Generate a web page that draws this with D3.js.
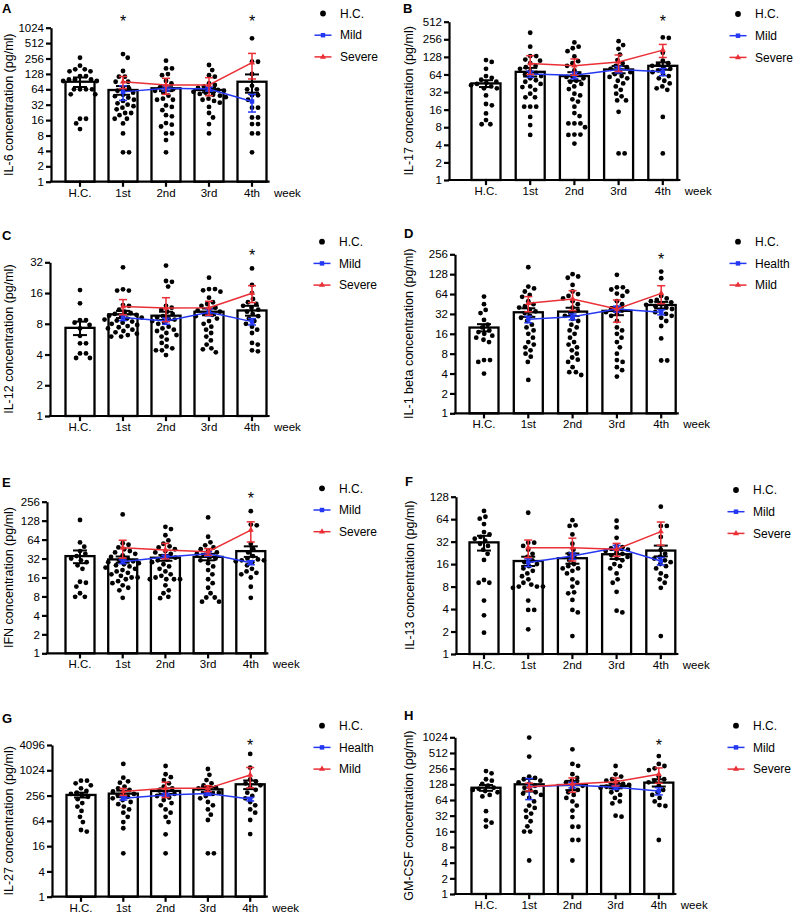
<!DOCTYPE html>
<html>
<head>
<meta charset="utf-8">
<script src="https://cdn.jsdelivr.net/npm/d3@7"></script>
<style>
  body { margin: 0; background: #fff; }
  svg { display: block; font-family: "Liberation Sans", Arial, Helvetica, sans-serif; }
</style>
</head>
<body>
<svg id="chart" width="796" height="916"></svg>
<script>
// categories
const groups = ['H.C.', '1st', '2nd', '3rd', '4th'];
const weeks = ['1st', '2nd', '3rd', '4th'];

// tick values
const ticks1024 = [1, 2, 4, 8, 16, 32, 64, 128, 256, 512, 1024];
const ticks512 = [1, 2, 4, 8, 16, 32, 64, 128, 256, 512];
const ticks256 = [1, 2, 4, 8, 16, 32, 64, 128, 256];
const ticks128 = [1, 2, 4, 8, 16, 32, 64, 128];
const ticks32 = [1, 2, 4, 8, 16, 32];
const ticks4096 = [1, 4, 16, 64, 256, 1024, 4096];

// A: IL-6
const il6Dots = [
  [265, 185, 157, 157, 144, 144, 116, 116, 100, 100, 100, 93, 93, 64, 64, 64, 64, 51, 51, 17, 17, 13.8, 10.7],
  [313, 265, 146, 113, 113, 90, 90, 67, 67, 60, 55, 50, 47, 44, 40, 38, 34, 32, 30, 28, 26, 22, 22, 20, 17, 17, 13.8, 8.8, 3.75, 3.75],
  [232, 164, 164, 127, 121, 93, 83, 70, 70, 64, 60, 55, 48, 42, 40, 40, 31, 29, 25, 20, 19, 14, 13, 12, 8.8, 8.8, 6.5, 3.75],
  [191, 152, 121, 113, 83, 78, 72, 68, 64, 62, 60, 57, 55, 52, 50, 48, 45, 42, 40, 38, 35, 29, 22, 18, 13.4, 8.8],
  [634, 221, 221, 128, 75, 64, 64, 49, 49, 40, 28, 28, 18, 18, 13.4, 13.4, 8.8, 8.8, 3.75]
];
const il6Mean = [90, 62, 67, 62, 90];
const il6Sem = [19, 12, 8, 6, 35];
const il6Mild = [57, 67, 65, 37];
const il6MildSem = [18, 8, 6, 14];
const il6Severe = [90, 78, 78, 212];
const il6SevereSem = [24, 27, 30, 110];

// B: IL-17
const il17Dots = [
  [113, 105, 80, 60, 56, 52, 48, 46, 44, 42, 40, 37, 37, 28, 20, 19, 13.8, 10.6, 9, 9],
  [331, 191, 132, 132, 115, 110, 100, 90, 85, 80, 72, 68, 64, 60, 55, 51, 48, 44, 40, 39, 35, 30, 26, 26, 18, 18, 18, 12, 8.7, 5.9],
  [226, 191, 180, 160, 130, 108, 100, 90, 75, 65, 60, 58, 55, 50, 48, 44, 40, 36, 30, 28, 24, 22, 18, 14, 12.4, 9.3, 9.3, 9.3, 8, 6, 6, 5.9, 4.2],
  [238, 204, 176, 140, 113, 100, 90, 85, 80, 75, 70, 65, 60, 58, 55, 50, 45, 40, 35, 30, 27, 23, 23, 14.7, 2.85, 2.85],
  [276, 270, 150, 110, 100, 95, 90, 85, 80, 75, 70, 65, 60, 55, 50, 45, 40, 37, 35, 12, 2.85]
];
const il17Mean = [45, 71, 60, 78, 90];
const il17Sem = [6, 12, 10, 11, 13];
const il17Mild = [65, 62, 78, 71];
const il17MildSem = [8, 8, 10, 10];
const il17Severe = [99, 90, 105, 167];
const il17SevereSem = [35, 28, 33, 42];

// C: IL-12
const il12Dots = [
  [17.1, 12.7, 8.7, 8.7, 8.2, 7.8, 7.2, 6.1, 5.15, 5.15, 4.1, 4.1, 3.7, 3.7],
  [28.6, 17.4, 16.9, 16.9, 12.2, 12, 11, 10.5, 10.2, 10, 9.8, 9.6, 9.4, 9.2, 9, 8.8, 8.6, 8.4, 8.2, 8, 7.8, 7.6, 7.4, 7.2, 7, 6.8, 6.6, 6.4, 6.2, 6, 6],
  [29.7, 21, 20.6, 18.5, 12, 11.5, 11, 10.5, 10, 9.5, 9.2, 9, 8.8, 8.5, 8.2, 8, 7.5, 7.2, 7, 6.8, 6.5, 6.2, 6, 5.6, 5.2, 4.8, 4.6, 4.4, 4.4, 3.95],
  [22.6, 17.5, 17.5, 17, 16.5, 14.4, 13, 12.5, 12, 11.5, 11, 10.8, 10.5, 10, 9.8, 9.5, 9, 8.5, 8, 7.5, 7, 6.5, 6, 5.5, 5, 4.6, 4.5, 4.2],
  [27.9, 19.2, 16, 14, 13, 12.5, 12, 11.5, 11, 10.5, 10, 9.5, 9, 8.5, 8, 7.5, 7, 6.5, 5.2, 5, 4.4, 4.3]
];
const il12Mean = [7.3, 9.9, 9.6, 10.5, 10.8];
const il12Sem = [1.1, 0.8, 0.9, 0.8, 1.2];
const il12Mild = [9.2, 8.5, 10.4, 8.4];
const il12MildSem = [0.6, 0.6, 0.8, 0.6];
const il12Severe = [11.8, 11.4, 11.5, 15.9];
const il12SevereSem = [2, 3, 1.8, 3];

// D: IL-1 beta
const il1bDots = [
  [58.6, 45, 36.8, 33, 26, 22, 20, 18, 17, 16, 15, 14, 13, 12, 6.4, 6.4, 6, 4],
  [163, 83, 78, 70, 62, 58, 50, 45, 42, 40, 37, 35, 33, 30, 28, 25, 22, 20, 18, 16, 14, 12, 11, 10, 9, 8, 7.2, 6, 3.2],
  [128, 118, 113, 88, 70, 64, 60, 55, 50, 45, 40, 36, 33, 30, 27, 25, 22, 20, 18, 16, 14, 12, 11, 10, 9, 8, 7, 6.5, 6, 5, 4.2, 4.2, 3.8],
  [125, 81, 81, 75, 70, 65, 60, 50, 45, 40, 38, 36, 34, 32, 30, 25, 20, 18, 16, 14, 12, 10, 8, 6.4, 6, 5, 4.5, 3.6],
  [140, 111, 60, 55, 52, 50, 48, 45, 44, 42, 40, 38, 36, 34, 32, 30, 28, 25, 21, 13.6, 6.3, 6.3]
];
const il1bMean = [19.9, 33.9, 34.7, 35.6, 43.7];
const il1bSem = [2.5, 5, 5, 5, 5];
const il1bMild = [26.5, 29, 38, 34];
const il1bMildSem = [3, 3, 4, 3];
const il1bSevere = [46.5, 54, 38, 65.6];
const il1bSevereSem = [12, 18, 14, 20];

// E: IFN
const ifnDots = [
  [131, 57.7, 49.4, 42, 38, 35, 32, 30, 28, 25, 22, 13.7, 13.2, 11.5, 9, 7.9, 7.9],
  [161, 56, 53, 48, 45, 42, 40, 38, 36, 34, 32, 30, 29, 28, 27, 26, 25, 24, 23, 22, 21, 20, 19, 18, 17, 16, 16, 15, 14, 13, 12, 11, 10, 7.6],
  [102, 94, 75, 62, 55, 50, 48, 45, 42, 40, 38, 35, 33, 31, 30, 28, 26, 24, 22, 20, 18, 17, 16, 15, 15, 15, 15, 12, 10, 9, 7.9, 7.5],
  [144, 71, 58, 52, 48, 45, 42, 40, 38, 36, 34, 32, 30, 27, 24, 21, 18, 15, 13, 11, 9, 7.7, 7.7, 6.6, 6.6],
  [181, 111, 108, 55, 45, 40, 35, 32, 31, 30, 30, 29, 28, 25, 22, 20, 19, 18, 16, 11.4, 7.6]
];
const ifnMean = [35, 31, 33, 34, 42];
const ifnSem = [8, 3.5, 3.5, 4, 8];
const ifnMild = [28.5, 34, 38, 27.5];
const ifnMildSem = [2, 2, 3, 2];
const ifnSevere = [47.5, 43.6, 41, 90.6];
const ifnSevereSem = [15, 12, 5, 32];

// F: IL-13
const il13Dots = [
  [82.6, 69, 65, 55, 43, 40, 37, 35, 33, 30, 28, 25, 22, 18.2, 9.8, 9, 9, 5.2, 3.3, 1.93],
  [78, 31, 31, 28, 25, 22, 20, 18, 17, 16, 15, 14, 13, 12, 11, 10, 9, 8.5, 8, 8, 8, 7.7, 5.2, 3.9, 3.9, 2.14],
  [62, 53, 52, 40, 30, 25, 22, 20, 18, 16, 15, 14, 14, 13, 12, 10, 9, 8, 6.7, 6.5, 5.3, 3.9, 3.6, 1.74],
  [61, 49.6, 36, 28, 27, 26, 25, 24, 23, 22, 21, 20, 19, 18, 16, 15, 14, 12, 10, 9, 6.8, 3.8, 3.6],
  [94, 52, 52, 37, 25, 22, 20, 19, 18, 17, 16, 15, 14, 12, 11, 10, 9, 7.7, 1.74]
];
const il13Mean = [31.3, 17.6, 19.2, 21.7, 24.3];
const il13Sem = [7, 2.5, 3, 3, 4];
const il13Mild = [16.8, 20.6, 26.5, 17.6];
const il13MildSem = [2, 2, 2, 2];
const il13Severe = [26.6, 26.6, 25.3, 43.6];
const il13SevereSem = [7, 9, 5, 15];

// G: IL-27
const il27Dots = [
  [580, 580, 500, 450, 380, 330, 300, 280, 260, 240, 210, 170, 140, 110, 80, 60, 38.8, 35.5],
  [1448, 683, 560, 520, 420, 380, 350, 320, 300, 280, 260, 240, 220, 200, 180, 160, 140, 120, 100, 80, 60, 42.6, 10.8],
  [1296, 823, 700, 600, 500, 420, 380, 340, 300, 280, 250, 230, 200, 170, 150, 120, 100, 80, 60, 30.6, 10.8],
  [1100, 800, 600, 500, 450, 400, 380, 340, 300, 280, 250, 220, 180, 150, 120, 90, 67, 10.8, 10.8],
  [2510, 1177, 620, 560, 500, 450, 400, 350, 300, 250, 220, 180, 150, 120, 100, 67, 31]
];
const il27Mean = [265, 285, 330, 360, 475];
const il27Sem = [35, 50, 50, 50, 110];
const il27Mild = [220, 265, 288, 211];
const il27MildSem = [20, 25, 30, 20];
const il27Severe = [318, 380, 380, 792];
const il27SevereSem = [60, 150, 60, 400];

// H: GM-CSF
const gmcsfDots = [
  [230, 208, 160, 150, 130, 120, 110, 105, 100, 95, 90, 80, 75, 39, 26, 23.5, 19.7],
  [1010, 436, 180, 170, 160, 150, 140, 130, 120, 110, 100, 90, 85, 80, 70, 60, 50, 45, 40, 35, 30, 25, 20, 15.8, 15.8, 4.4],
  [601, 315, 290, 200, 170, 150, 140, 130, 120, 110, 100, 90, 80, 70, 60, 50, 40, 30, 19.6, 19.6, 10.9, 10.9, 4.4],
  [288, 199, 180, 160, 150, 140, 130, 125, 120, 115, 110, 100, 90, 80, 70, 60, 55, 32, 30.6],
  [447, 315, 288, 260, 240, 180, 160, 150, 140, 120, 100, 90, 80, 70, 60, 51, 49, 10.9]
];
const gmcsfMean = [110, 128, 124, 119, 138];
const gmcsfSem = [14, 35, 25, 12, 22];
const gmcsfMild = [115, 124, 112, 95];
const gmcsfMildSem = [50, 15, 10, 15];
const gmcsfSevere = [115, 130, 144, 199];
const gmcsfSevereSem = [20, 40, 25, 65];

const legendMildSevere = ['Mild', 'Severe'];
const legendHealthMild = ['Health', 'Mild'];

const BLUE = '#2437f2';
const RED = '#ea2f36';
const BAR_W = 29;

// panel layout
const panels = [
  { letter: 'A', title: 'IL-6 concentration (pg/ml)', dots: il6Dots, mean: il6Mean, sem: il6Sem,
    mild: il6Mild, mildSem: il6MildSem, severe: il6Severe, severeSem: il6SevereSem,
    legend: legendMildSevere, stars: ['1st', '4th'], ticks: ticks1024,
    axisX: 51, c0: 80, step: 43, yTop: 27.7, yBot: 181.7, legX: 323, legY: 13.5,
    letX: 2, letY: 13.3, titleX: 8.5, starY: 18.3 },
  { letter: 'B', title: 'IL-17 concentration (pg/ml)', dots: il17Dots, mean: il17Mean, sem: il17Sem,
    mild: il17Mild, mildSem: il17MildSem, severe: il17Severe, severeSem: il17SevereSem,
    legend: legendMildSevere, stars: ['4th'], ticks: ticks512,
    axisX: 449, c0: 486, step: 44.2, yTop: 21.7, yBot: 180, legX: 738, legY: 14,
    letX: 403, letY: 13.3, titleX: 408.5, starY: 18.3 },
  { letter: 'C', title: 'IL-12 concentration (pg/ml)', dots: il12Dots, mean: il12Mean, sem: il12Sem,
    mild: il12Mild, mildSem: il12MildSem, severe: il12Severe, severeSem: il12SevereSem,
    legend: legendMildSevere, stars: ['4th'], ticks: ticks32,
    axisX: 50, c0: 80, step: 43, yTop: 262.3, yBot: 416, legX: 322, legY: 241.7,
    letX: 2, letY: 240, titleX: 8.5, starY: 252.3 },
  { letter: 'D', title: 'IL-1 beta concentration (pg/ml)', dots: il1bDots, mean: il1bMean, sem: il1bSem,
    mild: il1bMild, mildSem: il1bMildSem, severe: il1bSevere, severeSem: il1bSevereSem,
    legend: legendHealthMild, stars: ['4th'], ticks: ticks256,
    axisX: 455, c0: 484, step: 44.3, yTop: 254.3, yBot: 413.3, legX: 738, legY: 241.7,
    letX: 404, letY: 238.3, titleX: 408.5, starY: 255.7 },
  { letter: 'E', title: 'IFN concentration (pg/ml)', dots: ifnDots, mean: ifnMean, sem: ifnSem,
    mild: ifnMild, mildSem: ifnMildSem, severe: ifnSevere, severeSem: ifnSevereSem,
    legend: legendMildSevere, stars: ['4th'], ticks: ticks256,
    axisX: 47, c0: 80, step: 42.7, yTop: 501.7, yBot: 653.3, legX: 322, legY: 488.3,
    letX: 2, letY: 486.7, titleX: 8.5, starY: 495 },
  { letter: 'F', title: 'IL-13 concentration (pg/ml)', dots: il13Dots, mean: il13Mean, sem: il13Sem,
    mild: il13Mild, mildSem: il13MildSem, severe: il13Severe, severeSem: il13SevereSem,
    legend: legendMildSevere, stars: [], ticks: ticks128,
    axisX: 456, c0: 484, step: 44.2, yTop: 496.7, yBot: 654, legX: 736, legY: 490,
    letX: 405, letY: 485.7, titleX: 410, starY: 0 },
  { letter: 'G', title: 'IL-27 concentration (pg/ml)', dots: il27Dots, mean: il27Mean, sem: il27Sem,
    mild: il27Mild, mildSem: il27MildSem, severe: il27Severe, severeSem: il27SevereSem,
    legend: legendHealthMild, stars: ['4th'], ticks: ticks4096,
    axisX: 52, c0: 81, step: 42.3, yTop: 745, yBot: 896.7, legX: 322, legY: 725.7,
    letX: 2, letY: 722.7, titleX: 8.5, starY: 741.7 },
  { letter: 'H', title: 'GM-CSF concentration (pg/ml)', dots: gmcsfDots, mean: gmcsfMean, sem: gmcsfSem,
    mild: gmcsfMild, mildSem: gmcsfMildSem, severe: gmcsfSevere, severeSem: gmcsfSevereSem,
    legend: legendMildSevere, stars: ['4th'], ticks: ticks1024,
    axisX: 455, c0: 486, step: 43.2, yTop: 737.3, yBot: 894, legX: 736, legY: 725.7,
    letX: 404, letY: 720, titleX: 408.5, starY: 741.7 }
];

// simple beeswarm: each point goes to the free spot closest to the column centre
function swarm(values, y, cx, d) {
  const pts = values.map(v => ({ v, y: y(v) })).sort((a, b) => a.y - b.y);
  const placed = [];
  pts.forEach(pt => {
    const cands = [0];
    placed.forEach(q => {
      const dy = Math.abs(q.y - pt.y);
      if (dy < d) {
        const dx = Math.sqrt(d * d - dy * dy);
        cands.push(q.dx + dx + 0.01, q.dx - dx - 0.01);
      }
    });
    cands.sort((a, b) => Math.abs(a) - Math.abs(b));
    pt.dx = cands.find(c => placed.every(q => (q.dx - c) ** 2 + (q.y - pt.y) ** 2 >= d * d - 0.05));
    placed.push(pt);
  });
  return pts.map(p => ({ x: cx + p.dx, y: p.y }));
}

function errorBar(g, x, y, mean, sem, halfCap, color, width) {
  const lo = Math.max(mean - sem, 1.01);
  const hi = mean + sem;
  const e = g.append('g').attr('stroke', color).attr('stroke-width', width).attr('fill', 'none');
  e.append('line').attr('x1', x).attr('x2', x).attr('y1', y(hi)).attr('y2', y(lo));
  e.append('line').attr('x1', x - halfCap).attr('x2', x + halfCap).attr('y1', y(hi)).attr('y2', y(hi));
  e.append('line').attr('x1', x - halfCap).attr('x2', x + halfCap).attr('y1', y(lo)).attr('y2', y(lo));
}

function drawPanel(svg, p) {
  const g = svg.append('g').attr('class', 'panel');
  const y = d3.scaleLog().base(2)
    .domain([1, p.ticks[p.ticks.length - 1]])
    .range([p.yBot, p.yTop]);
  const pad = 1 - BAR_W / p.step;
  const x = d3.scaleBand().domain(groups)
    .range([p.c0 - p.step / 2, p.c0 + (groups.length - 0.5) * p.step])
    .paddingInner(pad).paddingOuter(pad / 2);
  const cx = d => x(d) + x.bandwidth() / 2;
  const xEnd = cx('4th') + BAR_W / 2 + 2;

  // bars
  g.append('g').selectAll('rect').data(groups).join('rect')
    .attr('x', d => x(d))
    .attr('width', x.bandwidth())
    .attr('y', (d, i) => y(p.mean[i]))
    .attr('height', (d, i) => p.yBot - y(p.mean[i]))
    .attr('fill', '#fff')
    .attr('stroke', '#000')
    .attr('stroke-width', 2.3);

  // scatter
  const dotG = g.append('g').attr('fill', '#000');
  groups.forEach((grp, i) => {
    swarm(p.dots[i], y, cx(grp), 6).forEach(pt => {
      dotG.append('circle').attr('cx', pt.x).attr('cy', pt.y).attr('r', 2.4);
    });
  });

  // bar error bars
  groups.forEach((grp, i) => errorBar(g, cx(grp), y, p.mean[i], p.sem[i], 7, '#000', 2));

  // mild / severe lines
  const line = d3.line().x((d, i) => cx(weeks[i])).y(d => y(d));
  const series = [
    { vals: p.mild, sem: p.mildSem, color: BLUE, sym: d3.symbolSquare, size: 20 },
    { vals: p.severe, sem: p.severeSem, color: RED, sym: d3.symbolTriangle, size: 16 }
  ];
  series.forEach(s => {
    g.append('path').datum(s.vals).attr('d', line)
      .attr('fill', 'none').attr('stroke', s.color).attr('stroke-width', 1.5);
    s.vals.forEach((v, i) => errorBar(g, cx(weeks[i]), y, v, s.sem[i], 4, s.color, 1.5));
    g.append('g').selectAll('path').data(s.vals).join('path')
      .attr('d', d3.symbol(s.sym, s.size))
      .attr('transform', (d, i) => `translate(${cx(weeks[i])},${y(d)})`)
      .attr('fill', s.color);
  });

  // y axis
  const ya = g.append('g')
    .attr('transform', `translate(${p.axisX},0)`)
    .call(d3.axisLeft(y).tickValues(p.ticks).tickFormat(d3.format('d'))
      .tickSize(5).tickPadding(2).tickSizeOuter(0));
  ya.attr('font-family', null).attr('font-size', 11.5);
  ya.selectAll('line, path').attr('stroke', '#000').attr('stroke-width', 2.2);
  ya.selectAll('text').attr('fill', '#000');

  // x axis
  const xa = g.append('g')
    .attr('transform', `translate(0,${p.yBot})`)
    .call(d3.axisBottom(x).tickSize(4).tickPadding(3).tickSizeOuter(0));
  xa.attr('font-family', null).attr('font-size', 11.5);
  xa.select('.domain').attr('d', `M${p.axisX},0H${xEnd}`);
  xa.selectAll('line, path').attr('stroke', '#000').attr('stroke-width', 2.2)
    .attr('stroke-linecap', 'square');
  xa.selectAll('text').attr('fill', '#000');
  xa.append('text').attr('x', cx('4th') + 22).attr('y', 7).attr('dy', '0.71em')
    .attr('text-anchor', 'start').attr('fill', '#000').text('week');

  // y title
  g.append('text')
    .attr('transform', `translate(${p.titleX},${(p.yTop + p.yBot) / 2}) rotate(-90)`)
    .attr('text-anchor', 'middle').attr('dy', '0.35em')
    .attr('font-size', 12.5).text(p.title);

  // panel letter
  g.append('text').attr('x', p.letX).attr('y', p.letY)
    .attr('font-size', 13).attr('font-weight', 'bold').text(p.letter);

  // significance stars
  g.append('g').selectAll('text').data(p.stars).join('text')
    .attr('x', d => cx(d)).attr('y', p.starY + 9)
    .attr('text-anchor', 'middle').attr('font-size', 16).text('*');

  // legend
  const lg = g.append('g').attr('font-size', 12);
  const rowH = 21.7;
  lg.append('circle').attr('cx', p.legX).attr('cy', p.legY).attr('r', 2.9);
  lg.append('text').attr('x', p.legX + 17).attr('y', p.legY).attr('dy', '0.35em').text('H.C.');
  series.forEach((s, i) => {
    const ry = p.legY + rowH * (i + 1);
    lg.append('line').attr('x1', p.legX - 8.5).attr('x2', p.legX + 8.5)
      .attr('y1', ry).attr('y2', ry).attr('stroke', s.color).attr('stroke-width', 1.5);
    lg.append('path').attr('d', d3.symbol(s.sym, s.size)())
      .attr('transform', `translate(${p.legX},${ry})`).attr('fill', s.color);
    lg.append('text').attr('x', p.legX + 17).attr('y', ry).attr('dy', '0.35em').text(p.legend[i]);
  });
}

const svg = d3.select('#chart');
panels.forEach(p => drawPanel(svg, p));
</script>
</body>
</html>
